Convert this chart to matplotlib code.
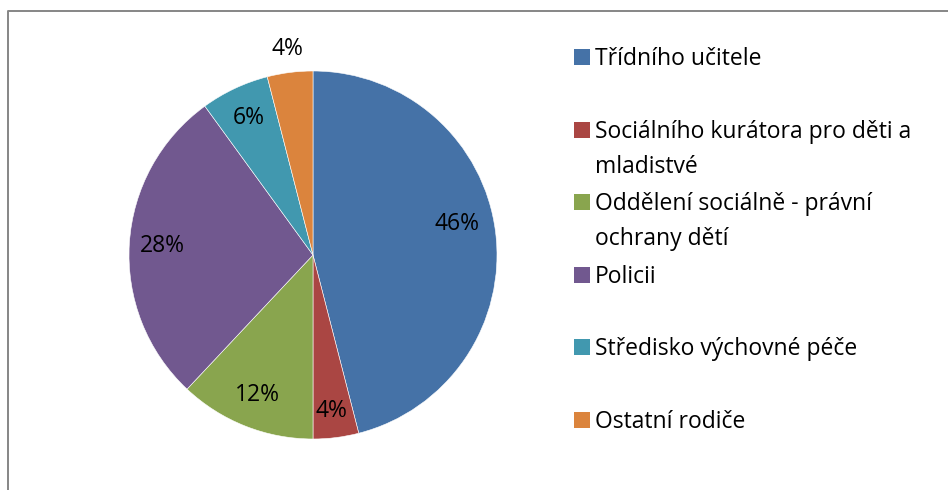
import matplotlib
matplotlib.use('Agg')
import matplotlib.pyplot as plt
from matplotlib.patches import Rectangle
from matplotlib.lines import Line2D

categories = ['Třídního učitele',
              'Sociálního kurátora pro děti a\nmladistvé',
              'Oddělení sociálně - právní\nochrany dětí',
              'Policii',
              'Středisko výchovné péče',
              'Ostatní rodiče']
values = [46, 4, 12, 28, 6, 4]
colors = ['#4572A7', '#AA4643', '#89A54E', '#71588F', '#4198AF', '#DB843D']

plt.rcParams['font.family'] = ['Open Sans', 'DejaVu Sans']

W, H = 948, 490
fig = plt.figure(figsize=(W / 100, H / 100), dpi=100)

# pie centre and radius in pixels
cx, cy, r = 313, 255, 184
ax = fig.add_axes([(cx - r) / W, (H - cy - r) / H, 2 * r / W, 2 * r / H])
wedges, texts, pcts = ax.pie(values, colors=colors, startangle=90, counterclock=False,
                             autopct='%1.0f%%', pctdistance=0.82,
                             wedgeprops=dict(edgecolor='white', linewidth=0.4),
                             textprops=dict(fontsize=16.5, color='black'))
ax.set_xlim(-1, 1)
ax.set_ylim(-1, 1)
ax.set_aspect('equal')
ax.axis('off')

# small slice at the top goes outside
x, y = pcts[-1].get_position()
pcts[-1].set_position((x * 1.13 / 0.82, y * 1.13 / 0.82))
x, y = pcts[0].get_position()
pcts[0].set_position((x * 0.96, y + 0.065))
x, y = pcts[1].get_position()
pcts[1].set_position((x, y * 1.04))

# legend drawn by hand, Excel style
first_y = [57, 130, 202, 275, 347, 420]
for name, col, ly in zip(categories, colors, first_y):
    fig.add_artist(Rectangle((574 / W, (H - ly - 8) / H), 16 / W, 16 / H,
                             facecolor=col, edgecolor='none', transform=fig.transFigure))
    fig.text(595 / W, (H - ly + 10) / H, name, fontsize=16.5, va='top', ha='left',
             linespacing=1.6, transform=fig.transFigure)

# chart border (left and top visible)
fig.add_artist(Line2D([8 / W, 8 / W, 1.0], [0.0, (H - 11) / H, (H - 11) / H],
                      color='#868686', linewidth=1.4, transform=fig.transFigure))

fig.savefig('out.png', dpi=100, facecolor='white')
